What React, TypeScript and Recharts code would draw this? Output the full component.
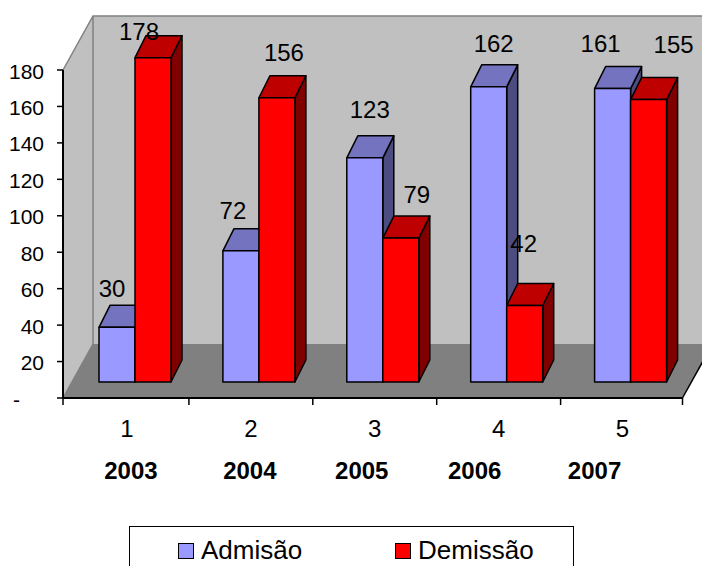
import React from 'react';
import { BarChart, Bar, XAxis, YAxis, Legend, LabelList, Customized } from 'recharts';

const categories = ['1', '2', '3', '4', '5'];
const years = ['2003', '2004', '2005', '2006', '2007'];
const admissao = [30, 72, 123, 162, 161];
const demissao = [178, 156, 79, 42, 155];
const yTicks = [0, 20, 40, 60, 80, 100, 120, 140, 160, 180];

const data = categories.map((name, i) => ({ name, admissao: admissao[i], demissao: demissao[i] }));

// plot frame of the fake 3D box
const LEFT = 63;
const RIGHT = 682.5;
const TOP = 70;
const BOTTOM = 398;
const BAND = (RIGHT - LEFT) / categories.length;
const BOX_DX = 30;
const BOX_DY = -54;

// each bar stands a little way into the box floor
const BAR_DX = 10;
const BAR_DY = -16;
const DEPTH_DX = 11;
const DEPTH_DY = -22;

// hand placed labels, relative to the top centre of the bar's front face
const admissaoNudge = [[-5, -39], [-8, -40], [5, -48], [5, -43], [-12, -45]];
const demissaoNudge = [[-14, -26], [7, -45], [16, -44], [-1, -62], [25, -55]];
const yearNudge = [6, 1, -11, -22, -26];

const FONT = '"Liberation Sans", Arial, sans-serif';

function Walls() {
  const backLeft = LEFT + BOX_DX;
  const backTop = TOP + BOX_DY;
  const backBottom = BOTTOM + BOX_DY;
  return (
    <g>
      <rect x={backLeft} y={backTop} width={702 - backLeft} height={backBottom - backTop} fill="#c0c0c0" />
      <polygon points={`${LEFT},${TOP} ${backLeft},${backTop} ${backLeft},${backBottom} ${LEFT},${BOTTOM}`} fill="#c0c0c0" />
      <polygon points={`${LEFT},${BOTTOM} ${backLeft},${backBottom} ${RIGHT + BOX_DX},${backBottom} ${RIGHT},${BOTTOM}`} fill="#808080" />
      <path
        d={`M${LEFT},${TOP} L${backLeft},${backTop} L702,${backTop} M${backLeft},${backTop} L${backLeft},${backBottom} L${LEFT},${BOTTOM}`}
        fill="none"
        stroke="#808080"
        strokeWidth={1.5}
      />
      <line x1={RIGHT} y1={BOTTOM} x2={RIGHT + BOX_DX} y2={backBottom} stroke="#000" strokeWidth={1.5} />
    </g>
  );
}

function bar3D(front: string, top: string, side: string) {
  return (props: any) => {
    const x = props.x + BAR_DX;
    const y = props.y + BAR_DY;
    const { width: w, height: h } = props;
    const line = { stroke: '#000', strokeWidth: 1.5, strokeLinejoin: 'round' as const };
    return (
      <g>
        <polygon
          points={`${x + w},${y} ${x + w + DEPTH_DX},${y + DEPTH_DY} ${x + w + DEPTH_DX},${y + h + DEPTH_DY} ${x + w},${y + h}`}
          fill={side}
          {...line}
        />
        <polygon
          points={`${x},${y} ${x + DEPTH_DX},${y + DEPTH_DY} ${x + w + DEPTH_DX},${y + DEPTH_DY} ${x + w},${y}`}
          fill={top}
          {...line}
        />
        <rect x={x} y={y} width={w} height={h} fill={front} {...line} />
      </g>
    );
  };
}

function valueLabel(nudge: number[][]) {
  return (props: any) => {
    const { x, y, width, value, index } = props;
    return (
      <text
        x={x + BAR_DX + width / 2 + nudge[index][0]}
        y={y + BAR_DY + nudge[index][1]}
        textAnchor="middle"
        dominantBaseline="central"
        fontFamily={FONT}
        fontSize={24}
        fill="#000"
      >
        {value}
      </text>
    );
  };
}

function YTick({ y, payload }: any) {
  const isZero = payload.value === 0;
  return (
    <text
      x={isZero ? 20 : 44}
      y={y + 1}
      textAnchor="end"
      dominantBaseline="central"
      fontFamily={FONT}
      fontSize={21}
      fill="#000"
    >
      {isZero ? '-' : payload.value}
    </text>
  );
}

// tick marks sit on the category boundaries, the year row is below the numbers
function XTick({ x, payload, index }: any) {
  const left = index === 0 ? LEFT : x - BAND / 2 + 2;
  return (
    <g>
      <line x1={left} y1={BOTTOM} x2={left} y2={BOTTOM + 7} stroke="#000" strokeWidth={1.5} />
      {index === categories.length - 1 && (
        <line x1={x + BAND / 2} y1={BOTTOM} x2={x + BAND / 2} y2={BOTTOM + 7} stroke="#000" strokeWidth={1.5} />
      )}
      <text x={x + 2} y={428} textAnchor="middle" dominantBaseline="central" fontFamily={FONT} fontSize={24} fill="#000">
        {payload.value}
      </text>
      <text
        x={x + yearNudge[index]}
        y={470}
        textAnchor="middle"
        dominantBaseline="central"
        fontFamily={FONT}
        fontSize={24}
        fontWeight="bold"
        fill="#000"
      >
        {years[index]}
      </text>
    </g>
  );
}

function LegendBox({ payload }: any) {
  return (
    <div
      style={{
        boxSizing: 'border-box',
        width: 445,
        height: 60,
        border: '1.5px solid #000',
        background: '#fff',
        fontFamily: FONT,
        fontSize: 26,
        position: 'relative',
      }}
    >
      {(payload || []).map((entry: any, i: number) => (
        <div key={entry.value} style={{ position: 'absolute', left: i === 0 ? 48 : 265, top: 8, display: 'flex', alignItems: 'center' }}>
          <span style={{ boxSizing: 'border-box', width: 16, height: 16, background: entry.color, border: '1.5px solid #000', marginRight: 7 }} />
          <span>{entry.value}</span>
        </div>
      ))}
    </div>
  );
}

export default function App() {
  return (
    <div style={{ position: 'absolute', left: 0, top: 0, width: 702, height: 566, overflow: 'hidden', background: '#fff' }}>
      <BarChart
        width={702}
        height={566}
        data={data}
        margin={{ top: TOP, right: 702 - RIGHT, bottom: 0, left: 0 }}
        barSize={36}
        barGap={0}
      >
        <Customized component={Walls} />
        <XAxis dataKey="name" height={566 - BOTTOM} axisLine={{ stroke: '#000', strokeWidth: 2 }} tickLine={false} tick={XTick} interval={0} />
        <YAxis
          width={LEFT}
          domain={[0, 180]}
          ticks={yTicks}
          interval={0}
          tickSize={6}
          axisLine={{ stroke: '#000', strokeWidth: 2 }}
          tickLine={{ stroke: '#000', strokeWidth: 1.5 }}
          tick={YTick}
        />
        <Legend
          layout="horizontal"
          verticalAlign="middle"
          align="center"
          wrapperStyle={{ left: 129, top: 526, width: 445, height: 60 }}
          content={LegendBox}
        />
        <Bar dataKey="admissao" name="Admisão" fill="#9999ff" isAnimationActive={false} shape={bar3D('#9999ff', '#7373bf', '#4c4c80')}>
          <LabelList dataKey="admissao" content={valueLabel(admissaoNudge)} />
        </Bar>
        <Bar dataKey="demissao" name="Demissão" fill="#ff0000" isAnimationActive={false} shape={bar3D('#ff0000', '#bf0000', '#800000')}>
          <LabelList dataKey="demissao" content={valueLabel(demissaoNudge)} />
        </Bar>
      </BarChart>
    </div>
  );
}
